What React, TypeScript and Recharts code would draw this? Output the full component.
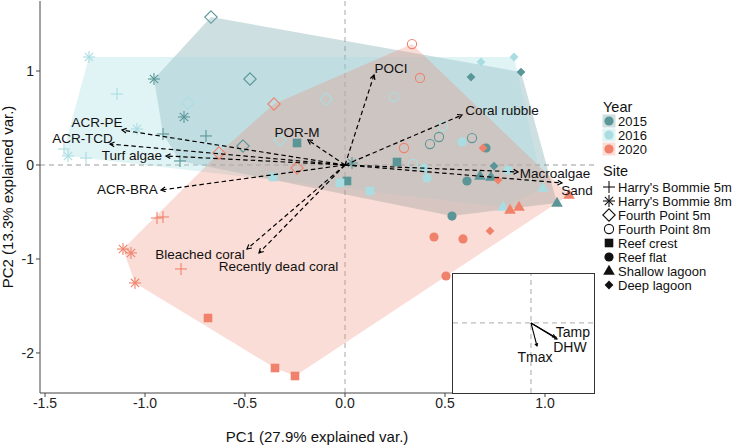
import React from 'react';
import { ScatterChart, Scatter, XAxis, YAxis, ReferenceLine, Legend } from 'recharts';

const FONT = '"Liberation Sans", Arial, Helvetica, sans-serif';

// ---------- data ----------
const years = ['2015', '2016', '2020'];
const yearColors = ['#5a9697', '#a9dde2', '#f0826c'];
const hullOpacity = [0.3, 0.36, 0.27];

const siteCodes = ['HB5', 'HB8', 'FP5', 'FP8', 'RC', 'RF', 'SL', 'DL'];
const siteLabels = [
  "Harry's Bommie 5m",
  "Harry's Bommie 8m",
  'Fourth Point 5m',
  'Fourth Point 8m',
  'Reef crest',
  'Reef flat',
  'Shallow lagoon',
  'Deep lagoon',
];

type Row = [string, number, number]; // site, PC1, PC2

const scores2015: Row[] = [
  ['HB5', -0.91, 0.33], ['HB5', -0.695, 0.309], ['HB5', -0.825, 0.043],
  ['HB8', -0.955, 0.915], ['HB8', -0.805, 0.511], ['HB8', 0.035, 0.021],
  ['FP5', -0.67, 1.574], ['FP5', -0.475, 0.915], ['FP5', -0.51, 0.202],
  ['FP8', 0.425, 0.223], ['FP8', 0.47, 0.298], ['FP8', 0.635, 0.287],
  ['RC', -0.24, 0.234], ['RC', 0.26, 0.032], ['RC', 0.01, -0.17],
  ['RF', 0.705, 0.181], ['RF', 0.61, -0.17], ['RF', 0.535, -0.543],
  ['SL', 0.675, -0.117], ['SL', 0.73, -0.128], ['SL', 1.06, -0.404],
  ['DL', 0.63, 0.936], ['DL', 0.88, 0.989], ['DL', 0.745, -0.011],
];

const scores2016: Row[] = [
  ['HB5', -1.14, 0.755], ['HB5', -1.405, 0.17], ['HB5', -1.295, 0.074],
  ['HB8', -1.28, 1.149], ['HB8', -1.04, 0.383], ['HB8', -1.385, 0.096],
  ['FP5', -0.785, 0.66], ['FP5', -0.095, 0.702], ['FP5', -0.325, 0.266],
  ['FP8', 0.245, 0.723], ['FP8', 0.49, 0.415], ['FP8', 0.34, 0.011],
  ['RC', -0.36, -0.128], ['RC', -0.025, -0.191], ['RC', 0.125, -0.277],
  ['RF', 0.585, 0.245], ['RF', 0.395, -0.032], ['RF', 0.41, -0.138], ['RF', 0.815, -0.053],
  ['SL', 0.99, -0.245], ['SL', 0.79, -0.447],
  ['DL', 0.68, 1.096], ['DL', 0.845, 1.149],
];

const scores2020: Row[] = [
  ['HB5', -0.94, -0.564], ['HB5', -0.91, -0.553], ['HB5', -0.82, -1.106],
  ['HB8', -1.11, -0.894], ['HB8', -1.07, -0.936], ['HB8', -1.05, -1.255],
  ['FP5', -0.355, 0.649], ['FP5', -0.63, 0.128], ['FP5', -0.24, -0.032],
  ['FP8', 0.335, 1.287], ['FP8', 0.375, 0.926], ['FP8', 0.295, 0.181],
  ['RC', -0.685, -1.628], ['RC', -0.35, -2.16], ['RC', -0.25, -2.245],
  ['RF', 0.445, -0.766], ['RF', 0.59, -0.787], ['RF', 0.505, -1.181],
  ['SL', 1.12, -0.319], ['SL', 0.825, -0.479], ['SL', 0.87, -0.447],
  ['DL', 0.69, 0.181], ['DL', 0.765, -0.16], ['DL', 0.725, -0.702],
];

const loadingNames = [
  'POCI', 'Coral rubble', 'POR-M', 'ACR-PE', 'ACR-TCD', 'Turf algae',
  'ACR-BRA', 'Bleached coral', 'Recently dead coral', 'Macroalgae', 'Sand',
];
const loadingPC1 = [0.145, 0.585, -0.185, -1.115, -1.175, -0.895, -0.92, -0.49, -0.43, 0.865, 1.085];
const loadingPC2 = [0.957, 0.532, 0.266, 0.372, 0.223, 0.096, -0.266, -0.894, -0.936, -0.074, -0.191];
const loadingLabelPC1 = [0.23, 0.785, -0.24, -1.24, -1.3125, -1.065, -1.0875, -0.725, -0.3325, 1.05, 1.16];
const loadingLabelPC2 = [1.032, 0.585, 0.351, 0.447, 0.287, 0.096, -0.266, -0.947, -1.085, -0.093, -0.267];

const envNames = ['Tamp', 'DHW', 'Tmax'];
const envPC1 = [0.369, 0.4, 0.092];
const envPC2 = [-0.286, -0.327, -0.469];
const envLabelPC1 = [0.646, 0.6, 0.062];
const envLabelPC2 = [-0.184, -0.49, -0.694];

const xTicks = [-1.5, -1, -0.5, 0, 0.5, 1];
const yTicks = [-2, -1, 0, 1];

// ---------- helpers ----------
type P = { x: number; y: number; site?: string; name?: string };

const toPoints = (rows: Row[]): P[] => rows.map(([site, x, y]) => ({ site, x, y }));
const yearPoints = [toPoints(scores2015), toPoints(scores2016), toPoints(scores2020)];

function convexHull(pts: P[]): P[] {
  const p = [...pts].sort((a, b) => a.x - b.x || a.y - b.y);
  const cross = (o: P, a: P, b: P) => (a.x - o.x) * (b.y - o.y) - (a.y - o.y) * (b.x - o.x);
  const lower: P[] = [];
  for (const q of p) {
    while (lower.length >= 2 && cross(lower[lower.length - 2], lower[lower.length - 1], q) <= 0) lower.pop();
    lower.push(q);
  }
  const upper: P[] = [];
  for (let i = p.length - 1; i >= 0; i--) {
    const q = p[i];
    while (upper.length >= 2 && cross(upper[upper.length - 2], upper[upper.length - 1], q) <= 0) upper.pop();
    upper.push(q);
  }
  upper.pop();
  lower.pop();
  return lower.concat(upper).map((q) => ({ x: q.x, y: q.y }));
}

const hulls = yearPoints.map(convexHull);

const loadings = loadingNames.map((name, i) => ({
  name,
  tip: [{ x: 0, y: 0 }, { x: loadingPC1[i], y: loadingPC2[i] }],
  label: { name, x: loadingLabelPC1[i], y: loadingLabelPC2[i] },
}));
const loadingLabels = loadings.map((l) => l.label);

const envArrows = envNames.map((name, i) => ({
  name,
  tip: [{ x: 0, y: 0 }, { x: envPC1[i], y: envPC2[i] }],
  label: { name, x: envLabelPC1[i], y: envLabelPC2[i] },
}));
const envLabels = envArrows.map((l) => l.label);

const Empty = () => <g />;

function drawSymbol(site: string, cx: number, cy: number, color: string) {
  switch (site) {
    case 'HB5':
      return (
        <g stroke={color} strokeWidth={1.1}>
          <line x1={cx - 6} y1={cy} x2={cx + 6} y2={cy} />
          <line x1={cx} y1={cy - 6} x2={cx} y2={cy + 6} />
        </g>
      );
    case 'HB8': {
      const d = 4.2;
      return (
        <g stroke={color} strokeWidth={1.1}>
          <line x1={cx - 6} y1={cy} x2={cx + 6} y2={cy} />
          <line x1={cx} y1={cy - 6} x2={cx} y2={cy + 6} />
          <line x1={cx - d} y1={cy - d} x2={cx + d} y2={cy + d} />
          <line x1={cx - d} y1={cy + d} x2={cx + d} y2={cy - d} />
        </g>
      );
    }
    case 'FP5':
      return (
        <path
          d={`M${cx},${cy - 6.2} L${cx + 6.2},${cy} L${cx},${cy + 6.2} L${cx - 6.2},${cy} Z`}
          fill="none"
          stroke={color}
          strokeWidth={1.1}
        />
      );
    case 'FP8':
      return <circle cx={cx} cy={cy} r={4.6} fill="none" stroke={color} strokeWidth={1.1} />;
    case 'RC':
      return <rect x={cx - 4.3} y={cy - 4.3} width={8.6} height={8.6} fill={color} />;
    case 'RF':
      return <circle cx={cx} cy={cy} r={4.6} fill={color} />;
    case 'SL':
      return <path d={`M${cx},${cy - 6.2} L${cx + 5.8},${cy + 3.8} L${cx - 5.8},${cy + 3.8} Z`} fill={color} />;
    case 'DL':
      return <path d={`M${cx},${cy - 4.4} L${cx + 4.4},${cy} L${cx},${cy + 4.4} L${cx - 4.4},${cy} Z`} fill={color} />;
    default:
      return <g />;
  }
}

const pointShape = (color: string) => (p: any) => drawSymbol(p.payload.site, p.cx, p.cy, color);

const hullLine = (color: string, opacity: number) => (props: any) => {
  const pts = props.points || [];
  if (!pts.length) return <g />;
  const d = pts.map((q: any, i: number) => `${i ? 'L' : 'M'}${q.x},${q.y}`).join(' ') + ' Z';
  return <path d={d} fill={color} fillOpacity={opacity} stroke="none" />;
};

const arrowLine = (dashed: boolean, head: number, width: number) => (props: any) => {
  const pts = props.points || [];
  if (pts.length < 2) return <g />;
  const a = pts[0];
  const b = pts[1];
  const ang = Math.atan2(b.y - a.y, b.x - a.x);
  const h1x = b.x - head * Math.cos(ang - 0.5);
  const h1y = b.y - head * Math.sin(ang - 0.5);
  const h2x = b.x - head * Math.cos(ang + 0.5);
  const h2y = b.y - head * Math.sin(ang + 0.5);
  return (
    <g stroke="#000" strokeWidth={width} fill="none">
      <line x1={a.x} y1={a.y} x2={b.x} y2={b.y} strokeDasharray={dashed ? '4.5 3' : undefined} />
      <path d={`M${h1x},${h1y} L${b.x},${b.y} L${h2x},${h2y}`} />
    </g>
  );
};

const labelShape = (size: number) => (p: any) => (
  <text
    x={p.cx}
    y={p.cy}
    textAnchor="middle"
    dominantBaseline="central"
    fontSize={size}
    fontFamily={FONT}
    fill="#111"
  >
    {p.payload.name}
  </text>
);

const LegendBox = () => {
  const yearY = [24, 38, 52];
  const siteY = [90, 104, 118, 132, 146, 160, 174, 188];
  return (
    <svg width={153} height={200} style={{ display: 'block', fontFamily: FONT }}>
      <text x={7} y={10} fontSize={14.5} dominantBaseline="central" fill="#111">Year</text>
      {years.map((yr, i) => (
        <g key={yr}>
          <rect x={6.5} y={yearY[i] - 6.5} width={13} height={13} fill={yearColors[i]} fillOpacity={hullOpacity[i]} />
          <circle cx={13} cy={yearY[i]} r={4.6} fill={yearColors[i]} />
          <text x={22} y={yearY[i]} fontSize={13} dominantBaseline="central" fill="#111">{yr}</text>
        </g>
      ))}
      <text x={7} y={74} fontSize={14.5} dominantBaseline="central" fill="#111">Site</text>
      {siteCodes.map((s, i) => (
        <g key={s}>
          {drawSymbol(s, 13, siteY[i], '#111')}
          <text x={22} y={siteY[i]} fontSize={13} dominantBaseline="central" fill="#111">{siteLabels[i]}</text>
        </g>
      ))}
    </svg>
  );
};

const axisColor = '#444';

export default function App() {
  return (
    <div style={{ position: 'absolute', left: 0, top: 0, width: 749, height: 446, background: '#fff', fontFamily: FONT }}>
      <ScatterChart width={749} height={446} margin={{ top: 1, right: 155, bottom: 23, left: 0 }} style={{ fontFamily: FONT }}>
        <XAxis
          type="number"
          dataKey="x"
          domain={[-1.525, 1.245]}
          ticks={xTicks}
          allowDataOverflow
          height={30}
          tickSize={4}
          tickMargin={1}
          tickFormatter={(v: number) => v.toFixed(1)}
          tick={{ fill: '#222', fontSize: 14, fontFamily: FONT }}
          stroke={axisColor}
          label={{ value: 'PC1 (27.9% explained var.)', position: 'bottom', offset: 8, style: { fill: '#111', fontSize: 15, fontFamily: FONT } }}
        />
        <YAxis
          type="number"
          dataKey="y"
          domain={[-2.426, 1.745]}
          ticks={yTicks}
          allowDataOverflow
          width={40}
          tickSize={4}
          tickMargin={2}
          tick={{ fill: '#222', fontSize: 14, fontFamily: FONT }}
          stroke={axisColor}
          label={{ value: 'PC2 (13.3% explained var.)', angle: -90, position: 'insideLeft', offset: 8, style: { textAnchor: 'middle', fill: '#111', fontSize: 15, fontFamily: FONT } }}
        />
        <XAxis xAxisId="top" orientation="top" type="number" dataKey="x" domain={[-1.525, 1.245]} height={0} tick={false} tickLine={false} stroke={axisColor} />
        <YAxis yAxisId="right" orientation="right" type="number" dataKey="y" domain={[-2.426, 1.745]} width={0} tick={false} tickLine={false} stroke={axisColor} />

        {hulls.map((h, i) => (
          <Scatter
            key={`hull-${i}`}
            data={h}
            fill={yearColors[i]}
            line={hullLine(yearColors[i], hullOpacity[i])}
            lineType="joint"
            shape={Empty}
            isAnimationActive={false}
          />
        ))}

        <ReferenceLine x={0} stroke="#bdbdbd" strokeDasharray="5 4" strokeWidth={1.3} />
        <ReferenceLine y={0} stroke="#bdbdbd" strokeDasharray="5 4" strokeWidth={1.3} />

        {yearPoints.map((pts, i) => (
          <Scatter key={`pts-${i}`} name={years[i]} data={pts} fill={yearColors[i]} shape={pointShape(yearColors[i])} isAnimationActive={false} />
        ))}

        {loadings.map((l) => (
          <Scatter
            key={`arrow-${l.name}`}
            data={l.tip}
            fill="#000"
            line={arrowLine(true, 5, 1.2)}
            lineType="joint"
            shape={Empty}
            isAnimationActive={false}
          />
        ))}
        <Scatter data={loadingLabels} fill="#000" shape={labelShape(13.5)} isAnimationActive={false} />

        <Legend
          layout="vertical"
          align="center"
          verticalAlign="middle"
          wrapperStyle={{ left: 596, top: 97, width: 153, height: 200 }}
          content={() => <LegendBox />}
        />
      </ScatterChart>

      <div
        style={{
          position: 'absolute',
          left: 452,
          top: 273,
          width: 143,
          height: 121,
          boxSizing: 'border-box',
          border: '1px solid #333',
          background: '#fff',
        }}
      >
        <ScatterChart width={141} height={119} margin={{ top: 0, right: 0, bottom: 0, left: 0 }}>
          <XAxis type="number" dataKey="x" domain={[-1.2, 0.97]} hide allowDataOverflow />
          <YAxis type="number" dataKey="y" domain={[-1.43, 1.0]} hide allowDataOverflow />
          <ReferenceLine x={0} stroke="#bdbdbd" strokeDasharray="5 4" strokeWidth={1.3} />
          <ReferenceLine y={0} stroke="#bdbdbd" strokeDasharray="5 4" strokeWidth={1.3} />
          {envArrows.map((l) => (
            <Scatter
              key={`env-${l.name}`}
              data={l.tip}
              fill="#000"
              line={arrowLine(false, 3, 1.1)}
              lineType="joint"
              shape={Empty}
              isAnimationActive={false}
            />
          ))}
          <Scatter data={envLabels} fill="#000" shape={labelShape(14)} isAnimationActive={false} />
        </ScatterChart>
      </div>
    </div>
  );
}
